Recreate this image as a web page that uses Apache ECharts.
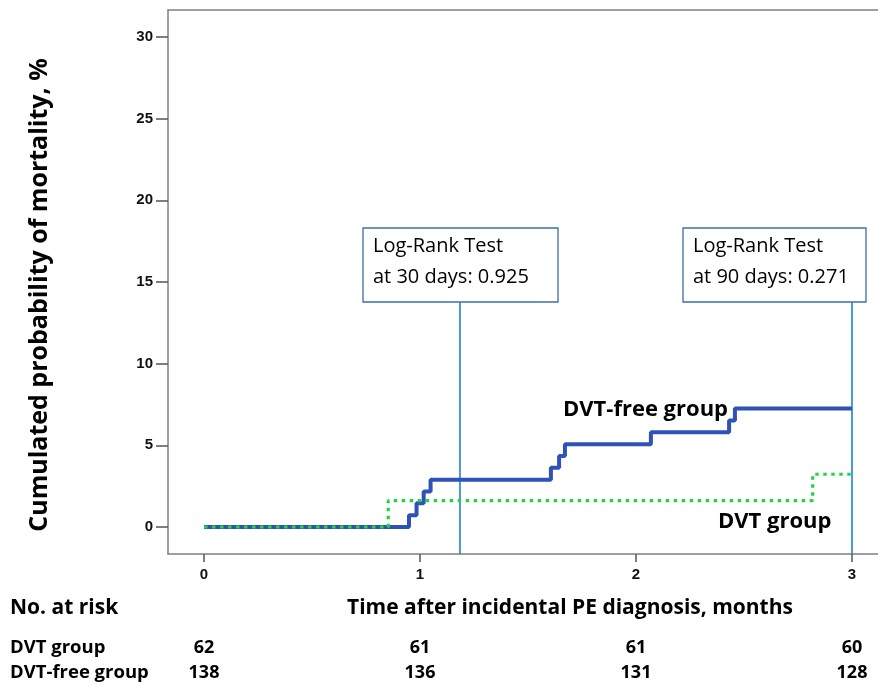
<!DOCTYPE html>
<html>
<head>
<meta charset="utf-8">
<script src="https://cdn.jsdelivr.net/npm/echarts@6/dist/echarts.min.js"></script>
<style>
html,body{margin:0;padding:0;background:#fff;}
#main{width:878px;height:686px;}
</style>
</head>
<body>
<div id="main"></div>
<script>
// ---- data ----
const xTicks = [0, 1, 2, 3];
const yTicks = [0, 5, 10, 15, 20, 25, 30];
const dvtFreeTimes  = [0, 0.949, 0.984, 1.017, 1.049, 1.606, 1.644, 1.671, 2.069, 2.431, 2.458, 3.0];
const dvtFreeValues = [0, 0.72, 1.45, 2.17, 2.90, 3.62, 4.35, 5.07, 5.80, 6.52, 7.25, 7.25];
const dvtTimes  = [0, 0.853, 2.818, 3.0];
const dvtValues = [0, 1.61, 3.23, 3.23];
const testTimes = [1.185, 3.0];
const testLabels = [["Log-Rank Test", "at 30 days: 0.925"], ["Log-Rank Test", "at 90 days: 0.271"]];
const riskGroups = ["DVT group", "DVT-free group"];
const riskDVT = [62, 61, 61, 60];
const riskDVTfree = [138, 136, 131, 128];

const FONT = "'Open Sans', 'Noto Sans', sans-serif";
const chart = echarts.init(document.getElementById('main'), null, {renderer: 'canvas'});

const testTop = 13.78;
const yMin = -1.653, yMax = 31.653;
const xMin = -0.1667, xMax = 3.1204;
const axisGray = {color: '#808080', width: 1.5};

const refSeries = testTimes.map(t => ({
  type: 'line', data: [[t, yMin], [t, testTop]], symbol: 'none', silent: true,
  lineStyle: {color: '#1f82d6', width: 1.6}, z: 1
}));

chart.setOption({
  animation: false,
  backgroundColor: '#fff',
  grid: {left: 168, top: 10, right: 0, bottom: 132},
  xAxis: [{
    type: 'value', min: xMin, max: xMax, position: 'bottom',
    axisLine: {show: true, onZero: false, lineStyle: axisGray},
    splitLine: {show: false},
    axisTick: {show: true, length: 8, customValues: xTicks, lineStyle: {color: '#555', width: 1.5}},
    axisLabel: {customValues: xTicks, margin: 13, fontFamily: 'Liberation Sans, Arial, sans-serif', fontWeight: 'bold', fontSize: 15, color: '#111'}
  }, {
    type: 'value', min: xMin, max: xMax, position: 'top',
    axisLine: {show: true, onZero: false, lineStyle: axisGray},
    splitLine: {show: false}, axisTick: {show: false}, axisLabel: {show: false}
  }],
  yAxis: {
    type: 'value', min: yMin, max: yMax,
    axisLine: {show: true, onZero: false, lineStyle: axisGray},
    splitLine: {show: false},
    axisTick: {show: true, length: 12, customValues: yTicks, lineStyle: {color: '#555', width: 1.5}},
    axisLabel: {customValues: yTicks, margin: 15, fontFamily: 'Liberation Sans, Arial, sans-serif', fontWeight: 'bold', fontSize: 15, color: '#111'}
  },
  series: refSeries.concat([
    {
      type: 'line', step: 'end', symbol: 'none', z: 3,
      data: dvtFreeTimes.map((t, i) => [t, dvtFreeValues[i]]),
      lineStyle: {color: '#2f52b5', width: 4}
    },
    {
      type: 'line', step: 'end', symbol: 'none', z: 4,
      data: dvtTimes.map((t, i) => [t, dvtValues[i]]),
      lineStyle: {color: '#22d443', width: 3.2, type: [3.5, 4.5]}
    }
  ])
});

function px(t) { return chart.convertToPixel({xAxisIndex: 0}, t); }

const g = [];
// y axis title
g.push({type: 'text', x: 40, y: 295, rotation: Math.PI / 2,
  style: {text: 'Cumulated probability of mortality, %', font: 'bold 25px ' + FONT, fill: '#000', textAlign: 'center', textVerticalAlign: 'middle'}});
// annotation boxes
const boxes = [{x: 363, y: 228, w: 195, h: 74}, {x: 683, y: 228, w: 183, h: 74}];
boxes.forEach((b, i) => {
  g.push({type: 'rect', shape: {x: b.x, y: b.y, width: b.w, height: b.h}, style: {fill: '#fff', stroke: '#3c6fa8', lineWidth: 1.3}, z: 10});
  g.push({type: 'text', x: b.x + 10, y: b.y + 18, style: {text: testLabels[i][0], font: '500 20px ' + FONT, fill: '#000', textVerticalAlign: 'middle'}, z: 11});
  g.push({type: 'text', x: b.x + 10, y: b.y + 49, style: {text: testLabels[i][1], font: '500 20px ' + FONT, fill: '#000', textVerticalAlign: 'middle'}, z: 11});
});
// curve labels
g.push({type: 'text', x: 563, y: 410, style: {text: 'DVT-free group', font: 'bold 22px ' + FONT, fill: '#000', textVerticalAlign: 'middle'}, z: 11});
g.push({type: 'text', x: 718, y: 522, style: {text: 'DVT group', font: 'bold 22px ' + FONT, fill: '#000', textVerticalAlign: 'middle'}, z: 11});
// x title and risk table
g.push({type: 'text', x: 10, y: 608, style: {text: 'No. at risk', font: 'bold 21px ' + FONT, fill: '#000', textVerticalAlign: 'middle'}});
g.push({type: 'text', x: 570, y: 608, style: {text: 'Time after incidental PE diagnosis, months', font: 'bold 21px ' + FONT, fill: '#000', textAlign: 'center', textVerticalAlign: 'middle'}});
const rowY = [648, 673];
[riskDVT, riskDVTfree].forEach((row, r) => {
  g.push({type: 'text', x: 10, y: rowY[r], style: {text: riskGroups[r], font: 'bold 18.5px ' + FONT, fill: '#000', textVerticalAlign: 'middle'}});
  row.forEach((v, i) => {
    g.push({type: 'text', x: px(xTicks[i]), y: rowY[r], style: {text: String(v), font: 'bold 18px ' + FONT, fill: '#000', textAlign: 'center', textVerticalAlign: 'middle'}});
  });
});
chart.setOption({graphic: g});
</script>
</body>
</html>
